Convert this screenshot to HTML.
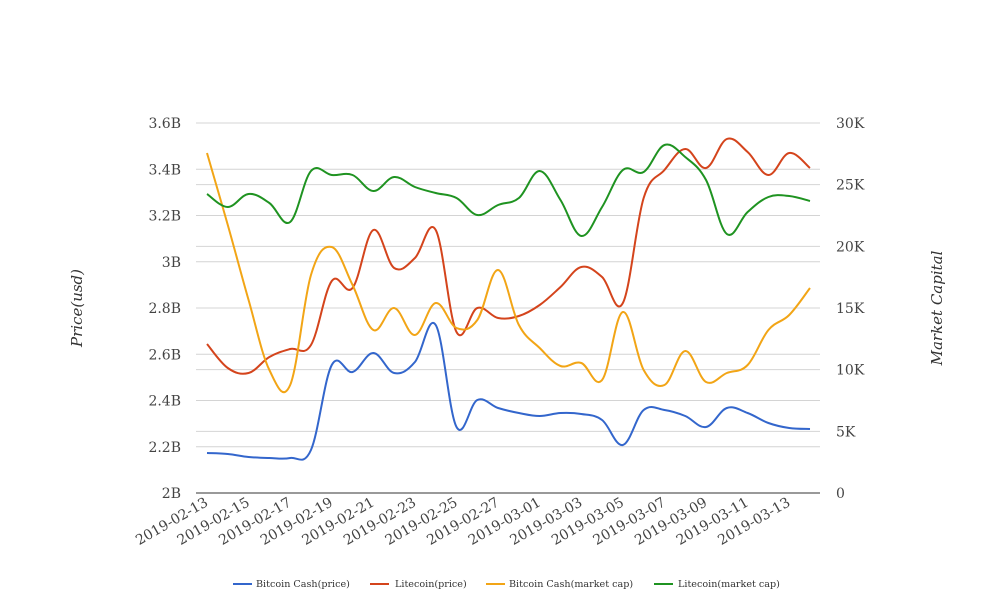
<!DOCTYPE html>
<html><head><meta charset="utf-8"><style>
body{margin:0;background:#fff;}
svg{display:block;font-family:"DejaVu Serif","Liberation Serif",serif;}
</style></head><body>
<svg id="c" width="1008" height="616" viewBox="0 0 1008 616" xmlns="http://www.w3.org/2000/svg">
<g id="grid" stroke="#d4d4d4" stroke-width="1"></g>
<line x1="196" y1="493" x2="820" y2="493" stroke="#333" stroke-width="1"/>
<g id="ticks" fill="#444" font-size="14"></g>
<text transform="translate(82,308) rotate(-90)" text-anchor="middle" font-size="15" font-style="italic" fill="#333">Price(usd)</text>
<text transform="translate(942,308) rotate(-90)" text-anchor="middle" font-size="15" font-style="italic" fill="#333">Market Capital</text>
<g id="lines" fill="none" stroke-width="2"></g>
<g font-size="9.6" fill="#333">
<line x1="233" y1="584" x2="252" y2="584" stroke="#3366cc" stroke-width="2"/><text x="256" y="587">Bitcoin Cash(price)</text>
<line x1="370" y1="584" x2="389" y2="584" stroke="#d4441c" stroke-width="2"/><text x="395" y="587">Litecoin(price)</text>
<line x1="486" y1="584" x2="505" y2="584" stroke="#f2a516" stroke-width="2"/><text x="509" y="587">Bitcoin Cash(market cap)</text>
<line x1="654" y1="584" x2="673" y2="584" stroke="#1f9321" stroke-width="2"/><text x="678" y="587">Litecoin(market cap)</text>
</g>
</svg>
<script>
const ns="http://www.w3.org/2000/svg";
function el(t,a,p,txt){const e=document.createElementNS(ns,t);for(const k in a)e.setAttribute(k,a[k]);if(txt)e.textContent=txt;document.getElementById(p).appendChild(e);return e;}
const L=["3.6B","3.4B","3.2B","3B","2.8B","2.6B","2.4B","2.2B","2B"];
for(let i=0;i<9;i++){const y=123+i*46.25;if(i<8)el("line",{x1:196,x2:820,y1:y,y2:y},"grid");el("text",{x:181,y:y+5,"text-anchor":"end"},"ticks",L[i]);}
const R=["30K","25K","20K","15K","10K","5K","0"];
for(let i=0;i<7;i++){const y=123+i*61.67;if(i<6)el("line",{x1:196,x2:820,y1:y,y2:y},"grid");el("text",{x:836,y:y+5},"ticks",R[i]);}
const days=["2019-02-13","2019-02-15","2019-02-17","2019-02-19","2019-02-21","2019-02-23","2019-02-25","2019-02-27","2019-03-01","2019-03-03","2019-03-05","2019-03-07","2019-03-09","2019-03-11","2019-03-13"];
const step=(810-207)/29;
days.forEach((d,i)=>{const x=207+i*2*step;el("text",{x:x+2,y:505,"text-anchor":"end",transform:`rotate(-30 ${x+2} 505)`},"ticks",d);});
const S=[
["#3366cc",[453,454,457,458,458,450,365,372,353,373,362,325,427,400,408,413,416,413,414,420,445,410,410,416,427,408,413,423,428,429]],
["#d4441c",[344,368,373,357,349,345,281,288,230,268,258,230,332,308,318,316,305,287,267,277,303,198,170,149,168,139,152,175,153,168]],
["#f2a516",[153,225,300,370,385,275,247,285,330,308,335,303,328,320,270,325,348,366,363,380,312,370,385,351,382,373,365,330,315,288]],
["#1f9321",[194,207,194,203,222,171,175,175,191,177,187,193,198,215,205,198,171,200,236,207,170,172,145,157,180,234,212,197,196,201]]];
S.forEach(([c,ys])=>{const p=ys.map((y,i)=>[207+i*step,y]);let d=`M${p[0][0]},${p[0][1]}`;
for(let i=0;i<p.length-1;i++){const p0=p[Math.max(0,i-1)],p1=p[i],p2=p[i+1],p3=p[Math.min(p.length-1,i+2)];const t=0.18;
d+=` C${p1[0]+(p2[0]-p0[0])*t},${p1[1]+(p2[1]-p0[1])*t} ${p2[0]-(p3[0]-p1[0])*t},${p2[1]-(p3[1]-p1[1])*t} ${p2[0]},${p2[1]}`;}
el("path",{d:d,stroke:c},"lines");});
</script>
</body></html>
